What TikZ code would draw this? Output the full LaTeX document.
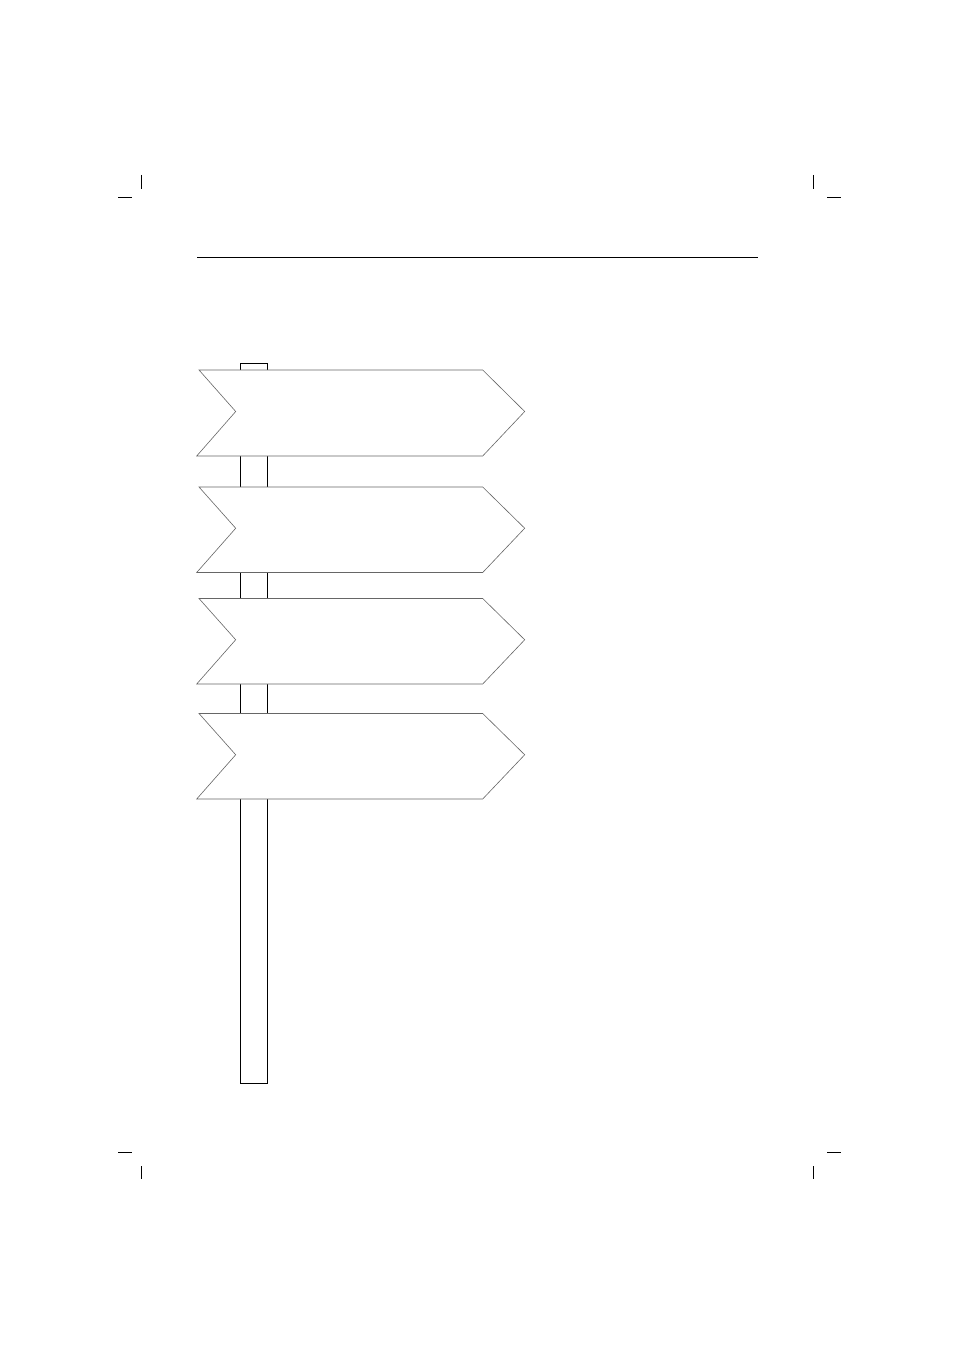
\documentclass[tikz,border=0pt]{standalone}
\begin{document}
\begin{tikzpicture}[x=1pt,y=-1pt,
  crop/.style={line width=1pt,black},
  post/.style={line width=1pt,black},
  sign/.style={line width=0.6pt,draw=black!60,fill=white,line join=miter}]
\useasboundingbox (0,0) rectangle (954,1351);
% crop marks
\draw[crop] (141.5,175) -- (141.5,189);
\draw[crop] (118,198) -- (132,198);
\draw[crop] (813,175) -- (813,189);
\draw[crop] (827,198) -- (841,198);
\draw[crop] (118,1152) -- (132,1152);
\draw[crop] (141.5,1166) -- (141.5,1179);
\draw[crop] (827,1152) -- (841,1152);
\draw[crop] (813,1166) -- (813,1179);
% header rule
\draw[line width=1pt] (197,257) -- (758,257);
% post
\draw[post] (240.5,363.5) rectangle (267,1083);
% signs
\foreach \t/\b in {370/456, 487/572.5, 598.5/684, 713.5/799}{
  \pgfmathsetmacro{\m}{(\t+\b)/2-1.5}
  \draw[sign] (199,\t) -- (482.7,\t) -- (524.7,\m) -- (482.7,\b) -- (196.7,\b) -- (235.7,\m) -- cycle;
}
\end{tikzpicture}
\end{document}
